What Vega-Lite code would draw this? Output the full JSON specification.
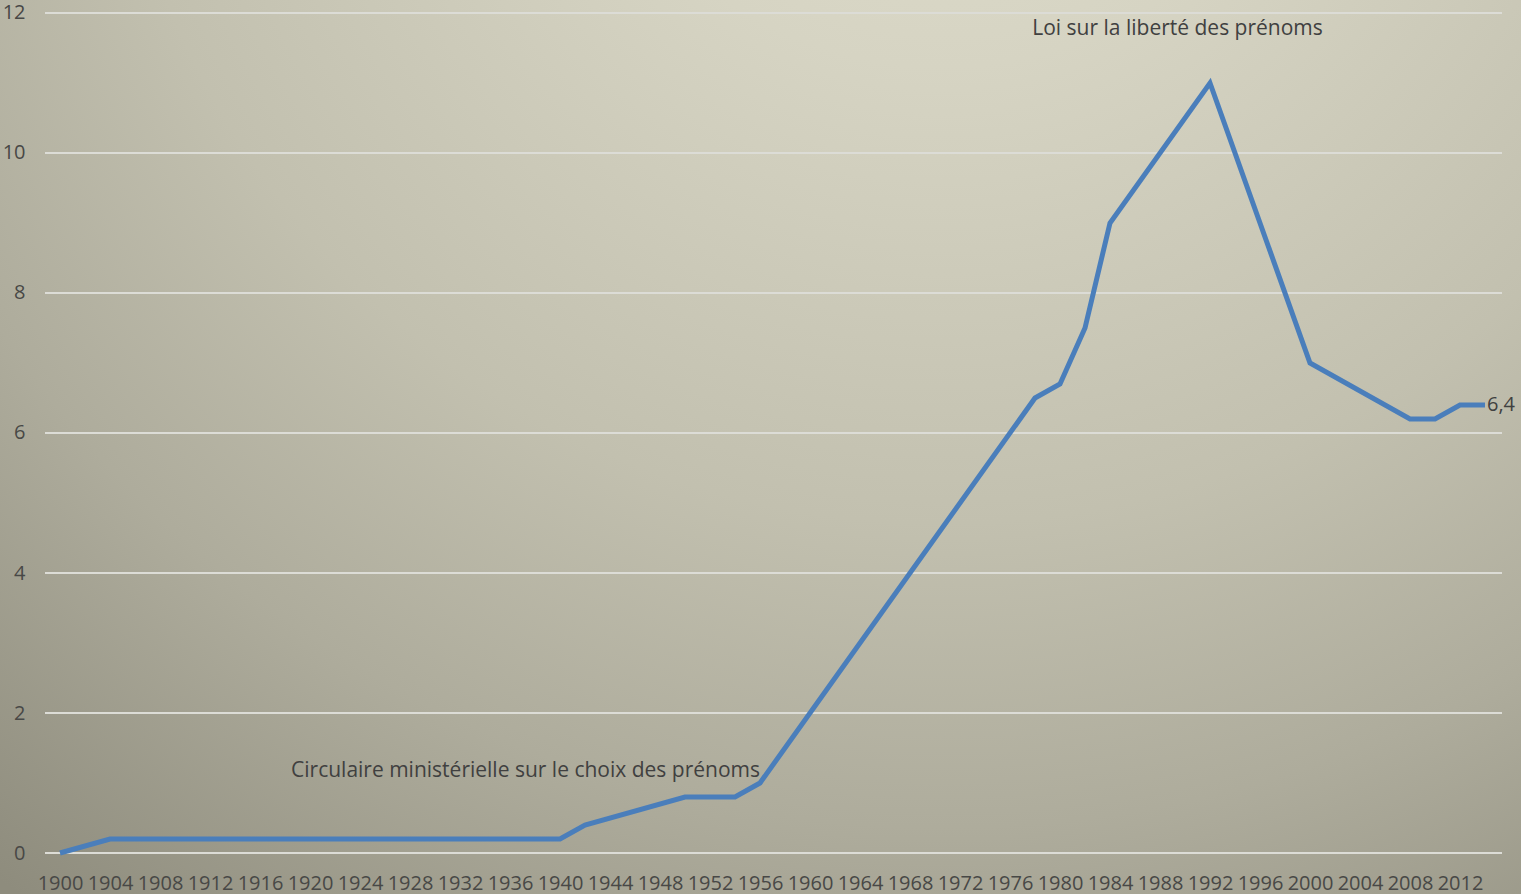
{
  "$schema": "https://vega.github.io/schema/vega-lite/v6.json",
  "width": 1521,
  "height": 894,
  "autosize": {"type": "none"},
  "padding": 0,
  "background": "#a3a192",
  "view": {
    "stroke": null,
    "fill": {
      "gradient": "radial",
      "x1": 0.62, "y1": 0.0, "r1": 0,
      "x2": 0.62, "y2": 0.0, "r2": 1,
      "stops": [
        {"offset": 0, "color": "#e2e0cf"},
        {"offset": 0.25, "color": "#d6d4c3"},
        {"offset": 0.55, "color": "#c2c0af"},
        {"offset": 0.75, "color": "#aeac9c"},
        {"offset": 1, "color": "#8e8c7d"}
      ]
    }
  },
  "config": {"font": "Open Sans"},
  "datasets": {
    "series": [
      {"year": 1900, "value": 0},
      {"year": 1904, "value": 0.2},
      {"year": 1940, "value": 0.2},
      {"year": 1942, "value": 0.4},
      {"year": 1950, "value": 0.8},
      {"year": 1954, "value": 0.8},
      {"year": 1956, "value": 1.0},
      {"year": 1978, "value": 6.5},
      {"year": 1980, "value": 6.7},
      {"year": 1982, "value": 7.5},
      {"year": 1984, "value": 9.0},
      {"year": 1992, "value": 11.0},
      {"year": 2000, "value": 7.0},
      {"year": 2008, "value": 6.2},
      {"year": 2010, "value": 6.2},
      {"year": 2012, "value": 6.4},
      {"year": 2014, "value": 6.4}
    ],
    "grid": [
      {"value": 0}, {"value": 2}, {"value": 4}, {"value": 6},
      {"value": 8}, {"value": 10}, {"value": 12}
    ],
    "noteTop": [
      {"year": 1989.4, "value": 11.77, "text": "Loi sur la liberté des prénoms"}
    ],
    "noteLow": [
      {"year": 1956, "value": 1.17, "text": "Circulaire ministérielle sur le choix des prénoms"}
    ],
    "last": [
      {"year": 2014, "value": 6.4, "text": "6,4"}
    ]
  },
  "layer": [
    {
      "data": {"name": "grid"},
      "mark": {"type": "rule", "color": "#dcdcd6", "strokeWidth": 2},
      "encoding": {
        "y": {
          "field": "value", "type": "quantitative",
          "scale": {"domain": [-0.5857, 12.1857], "nice": false, "zero": false},
          "axis": {
            "orient": "left", "offset": -45,
            "values": [0, 2, 4, 6, 8, 10, 12],
            "format": "d",
            "title": null, "grid": false, "domain": false, "ticks": false,
            "labelFontSize": 20, "labelColor": "#484846", "labelPadding": 20,
            "labelOverlap": false, "labelFlush": false, "labelBound": false
          }
        },
        "x": {
          "datum": 1898.8, "type": "quantitative",
          "scale": {"domain": [1895.2, 2016.88], "nice": false, "zero": false},
          "axis": {
            "orient": "bottom", "offset": -41,
            "values": [1900,1904,1908,1912,1916,1920,1924,1928,1932,1936,1940,1944,1948,1952,1956,1960,1964,1968,1972,1976,1980,1984,1988,1992,1996,2000,2004,2008,2012],
            "format": "d", "title": null, "grid": false, "domain": false, "ticks": false,
            "labelFontSize": 20, "labelColor": "#484846", "labelPadding": 20,
            "labelOverlap": false, "labelFlush": false, "labelBound": false
          }
        },
        "x2": {"datum": 2015.36}
      }
    },
    {
      "data": {"name": "series"},
      "mark": {"type": "line", "color": "#4a7ebb", "strokeWidth": 5, "strokeJoin": "miter", "strokeCap": "butt"},
      "encoding": {
        "x": {"field": "year", "type": "quantitative"},
        "y": {"field": "value", "type": "quantitative"}
      }
    },
    {
      "data": {"name": "noteTop"},
      "mark": {"type": "text", "fontSize": 21, "color": "#404040", "baseline": "middle", "align": "center"},
      "encoding": {
        "x": {"field": "year", "type": "quantitative"},
        "y": {"field": "value", "type": "quantitative"},
        "text": {"field": "text"}
      }
    },
    {
      "data": {"name": "noteLow"},
      "mark": {"type": "text", "fontSize": 21, "color": "#404040", "baseline": "middle", "align": "right"},
      "encoding": {
        "x": {"field": "year", "type": "quantitative"},
        "y": {"field": "value", "type": "quantitative"},
        "text": {"field": "text"}
      }
    },
    {
      "data": {"name": "last"},
      "mark": {"type": "text", "fontSize": 20, "color": "#404040", "baseline": "middle", "align": "left", "dx": 2},
      "encoding": {
        "x": {"field": "year", "type": "quantitative"},
        "y": {"field": "value", "type": "quantitative"},
        "text": {"field": "text"}
      }
    }
  ]
}
